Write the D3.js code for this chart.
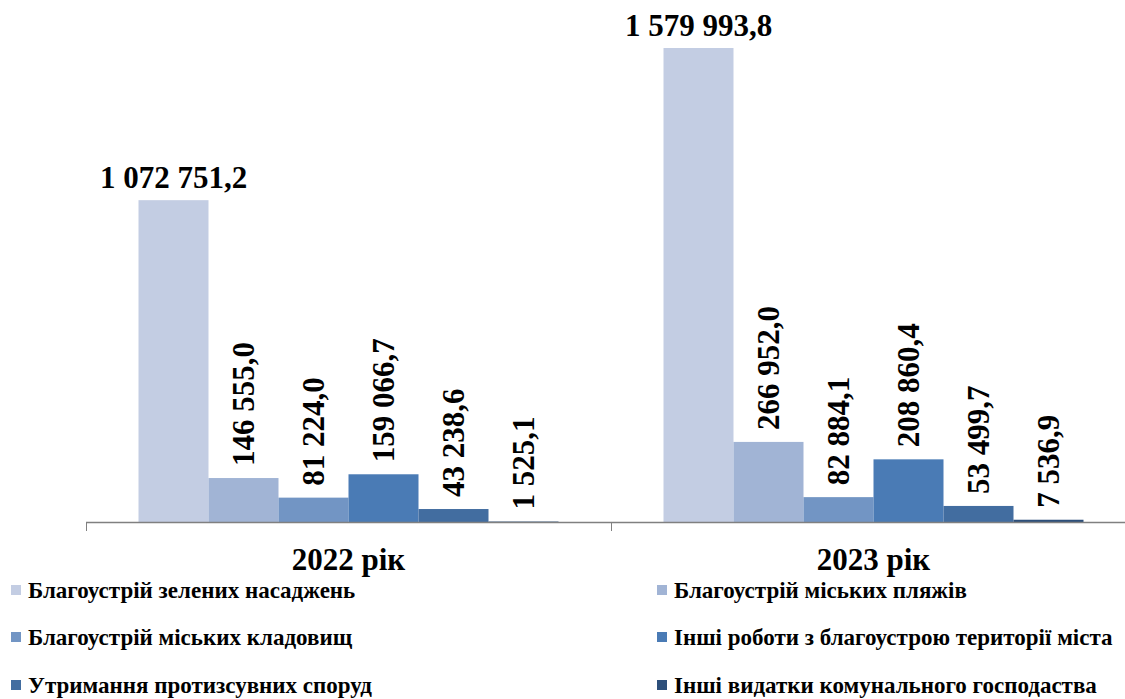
<!DOCTYPE html>
<html><head><meta charset="utf-8">
<script src="https://cdn.jsdelivr.net/npm/d3@7"></script>
<style>body{margin:0;background:#fff}svg{display:block}</style>
</head><body>
<script>
const categories = ["2022 рік", "2023 рік"];
const seriesNames = [
  "Благоустрій зелених насаджень",
  "Благоустрій міських пляжів",
  "Благоустрій міських кладовищ",
  "Інші роботи з благоустрою території міста",
  "Утримання протизсувних споруд",
  "Інші видатки комунального господаства"
];
const values2022 = [1072751.2, 146555.0, 81224.0, 159066.7, 43238.6, 1525.1];
const values2023 = [1579993.8, 266952.0, 82884.1, 208860.4, 53499.7, 7536.9];
const seriesColors = ["#c3cde3", "#a1b4d5", "#7295c4", "#4a7bb5", "#426da0", "#2d4f7a"];
const valueLabels2022 = ["1 072 751,2", "146 555,0", "81 224,0", "159 066,7", "43 238,6", "1 525,1"];
const valueLabels2023 = ["1 579 993,8", "266 952,0", "82 884,1", "208 860,4", "53 499,7", "7 536,9"];

const FONT = "Liberation Serif";
const W = 1125, H = 699;
const svg = d3.select("body").append("svg").attr("width", W).attr("height", H);
const x0 = d3.scaleBand().domain(categories).range([86, 1136]).paddingInner(0).paddingOuter(0);
const x1 = d3.scaleBand().domain(d3.range(6)).range([0, x0.bandwidth()]).paddingInner(0).paddingOuter(0.75);
const y = d3.scaleLinear().domain([0, 1600000]).range([522, 42]);

const data = categories.map((c, i) => ({
  cat: c,
  vals: (i === 0 ? values2022 : values2023).map((v, j) => ({v, j, label: (i === 0 ? valueLabels2022 : valueLabels2023)[j]}))
}));

const g = svg.selectAll("g.cat").data(data).enter().append("g")
  .attr("transform", d => `translate(${x0(d.cat)},0)`);
g.selectAll("rect").data(d => d.vals).enter().append("rect")
  .attr("x", d => x1(d.j)).attr("width", x1.bandwidth())
  .attr("y", d => y(d.v)).attr("height", d => y(0) - y(d.v))
  .attr("fill", d => seriesColors[d.j]);

g.selectAll("text.val").data(d => d.vals).enter().append("text")
  .attr("class", "val")
  .attr("font-family", FONT).attr("font-weight", "bold").attr("fill", "#000")
  .attr("font-size", 31)
  .each(function(d) {
    const cx = x1(d.j) + x1.bandwidth() / 2;
    const sel = d3.select(this).text(d.label);
    if (d.v > 1000000) {
      sel.attr("x", cx).attr("y", y(d.v) - 12).attr("text-anchor", "middle");
    } else {
      sel.attr("text-anchor", "start")
        .attr("transform", `translate(${cx + 10},${y(d.v) - 12}) rotate(-90)`);
    }
  });

// axis
const axis = svg.append("g");
axis.append("line").attr("x1", 86).attr("x2", 1136).attr("y1", 522.5).attr("y2", 522.5)
  .attr("stroke", "#808080").attr("stroke-width", 1.5);
[86, 611, 1136].forEach(t => {
  axis.append("line").attr("x1", t + 0.5).attr("x2", t + 0.5).attr("y1", 522).attr("y2", 531)
    .attr("stroke", "#808080").attr("stroke-width", 1);
});
svg.selectAll("text.cat").data(categories).enter().append("text")
  .attr("x", d => x0(d) + x0.bandwidth() / 2).attr("y", 570)
  .attr("text-anchor", "middle")
  .attr("font-family", FONT).attr("font-weight", "bold").attr("fill", "#000")
  .attr("font-size", 31).text(d => d);

// legend
const legPos = [[11, 590], [657, 590], [11, 637], [657, 637], [11, 685], [657, 685]];
seriesNames.forEach((s, i) => {
  const [lx, ly] = legPos[i];
  svg.append("rect").attr("x", lx).attr("y", ly - 5).attr("width", 10).attr("height", 10).attr("fill", seriesColors[i]);
  svg.append("text").attr("x", lx + 17).attr("y", ly + 8)
    .attr("font-family", FONT).attr("font-weight", "bold").attr("fill", "#000")
    .attr("font-size", 23).text(s);
});
</script>
</body></html>
